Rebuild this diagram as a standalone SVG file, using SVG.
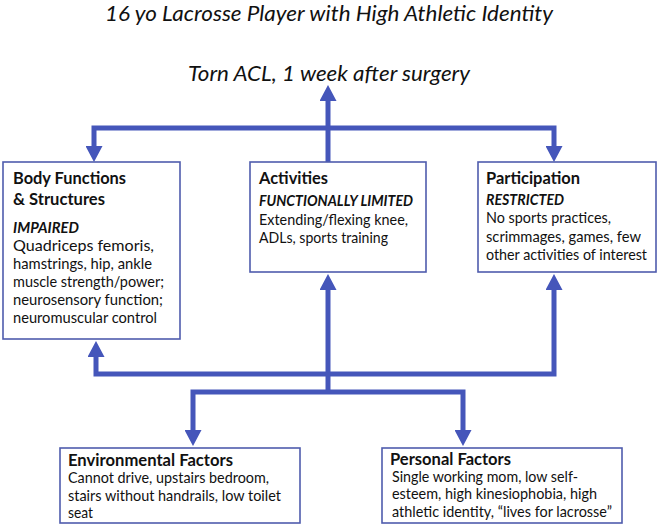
<svg xmlns="http://www.w3.org/2000/svg" width="659" height="526" viewBox="0 0 659 526">
<style>
.box{fill:#fff;stroke:#4f5cad;stroke-width:1.6}
.con{fill:none;stroke:#4556ba;stroke-width:5;stroke-linejoin:miter}
text{font-family:Lato,"Open Sans","Liberation Sans",sans-serif;fill:#111}
.ttl{font-size:21px;font-style:italic}
.hd{font-size:17px;font-weight:bold}
.sub{font-size:15px;font-weight:bold;font-style:italic}
.tx{font-size:15px}
</style>
<defs>
<marker id="ah" viewBox="0 0 16 17" refX="0" refY="8.5" markerWidth="16" markerHeight="17" markerUnits="userSpaceOnUse" orient="auto-start-reverse">
<path d="M0,0 L16,8.5 L0,17 Z" fill="#4556ba"/>
</marker>
</defs>
<g id="titles">
<text class="ttl" x="105" y="21" textLength="448" lengthAdjust="spacingAndGlyphs">16 yo Lacrosse Player with High Athletic Identity</text>
<text class="ttl" x="188" y="81" textLength="282" lengthAdjust="spacingAndGlyphs">Torn ACL, 1 week after surgery</text>
</g>
<g id="connectors">
<path class="con" d="M328,162 V101" marker-end="url(#ah)"/>
<path class="con" d="M94,146 V128 H554 V146" marker-start="url(#ah)" marker-end="url(#ah)"/>
<path class="con" d="M96,357 V374 H554 V290" marker-start="url(#ah)" marker-end="url(#ah)"/>
<path class="con" d="M328,392 V290" marker-end="url(#ah)"/>
<path class="con" d="M193,430 V392 H463 V430" marker-start="url(#ah)" marker-end="url(#ah)"/>
</g>
<g id="body">
<rect class="box" x="3" y="162" width="177" height="177"/>
<text class="hd" x="13" y="184" textLength="113" lengthAdjust="spacingAndGlyphs">Body Functions</text>
<text class="hd" x="13" y="205" textLength="92" lengthAdjust="spacingAndGlyphs">&amp; Structures</text>
<text class="sub" x="13" y="233" textLength="66" lengthAdjust="spacingAndGlyphs">IMPAIRED</text>
<text class="tx" x="13" y="251" textLength="141" lengthAdjust="spacingAndGlyphs">Quadriceps femoris,</text>
<text class="tx" x="13" y="269" textLength="139" lengthAdjust="spacingAndGlyphs">hamstrings, hip, ankle</text>
<text class="tx" x="13" y="287" textLength="151" lengthAdjust="spacingAndGlyphs">muscle strength/power;</text>
<text class="tx" x="13" y="305" textLength="150" lengthAdjust="spacingAndGlyphs">neurosensory function;</text>
<text class="tx" x="13" y="323" textLength="144" lengthAdjust="spacingAndGlyphs">neuromuscular control</text>
</g>
<g id="activities">
<rect class="box" x="250" y="162" width="176" height="110"/>
<text class="hd" x="259" y="184" textLength="69" lengthAdjust="spacingAndGlyphs">Activities</text>
<text class="sub" x="259" y="206" textLength="154" lengthAdjust="spacingAndGlyphs">FUNCTIONALLY LIMITED</text>
<text class="tx" x="259" y="225" textLength="149" lengthAdjust="spacingAndGlyphs">Extending/flexing knee,</text>
<text class="tx" x="259" y="243" textLength="129" lengthAdjust="spacingAndGlyphs">ADLs, sports training</text>
</g>
<g id="participation">
<rect class="box" x="478" y="162" width="178" height="110"/>
<text class="hd" x="486" y="184" textLength="94" lengthAdjust="spacingAndGlyphs">Participation</text>
<text class="sub" x="486" y="205" textLength="78" lengthAdjust="spacingAndGlyphs">RESTRICTED</text>
<text class="tx" x="486" y="223" textLength="125" lengthAdjust="spacingAndGlyphs">No sports practices,</text>
<text class="tx" x="486" y="242" textLength="155" lengthAdjust="spacingAndGlyphs">scrimmages, games, few</text>
<text class="tx" x="486" y="260" textLength="161" lengthAdjust="spacingAndGlyphs">other activities of interest</text>
</g>
<g id="environmental">
<rect class="box" x="60" y="448" width="240" height="75"/>
<text class="hd" x="68" y="466" textLength="165" lengthAdjust="spacingAndGlyphs">Environmental Factors</text>
<text class="tx" x="68" y="483" textLength="201" lengthAdjust="spacingAndGlyphs">Cannot drive, upstairs bedroom,</text>
<text class="tx" x="68" y="501" textLength="213" lengthAdjust="spacingAndGlyphs">stairs without handrails, low toilet</text>
<text class="tx" x="68" y="518" textLength="25" lengthAdjust="spacingAndGlyphs">seat</text>
</g>
<g id="personal">
<rect class="box" x="382" y="448" width="240" height="75"/>
<text class="hd" x="390" y="465" textLength="121" lengthAdjust="spacingAndGlyphs">Personal Factors</text>
<text class="tx" x="392" y="482" textLength="186" lengthAdjust="spacingAndGlyphs">Single working mom, low self-</text>
<text class="tx" x="392" y="499" textLength="205" lengthAdjust="spacingAndGlyphs">esteem, high kinesiophobia, high</text>
<text class="tx" x="392" y="517" textLength="220" lengthAdjust="spacingAndGlyphs">athletic identity, “lives for lacrosse”</text>
</g>
</svg>
